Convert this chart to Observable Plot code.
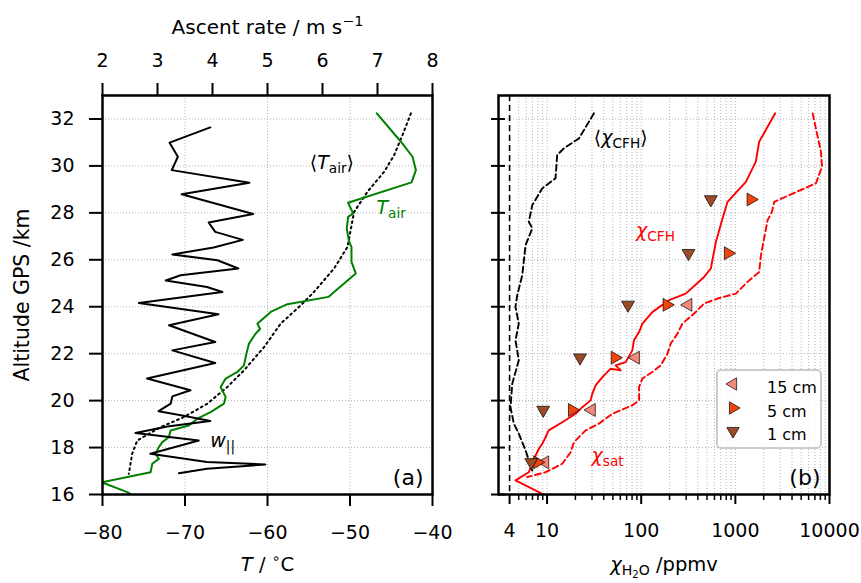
<!DOCTYPE html>
<html>
<head>
<meta charset="utf-8">
<script src="https://cdn.jsdelivr.net/npm/d3@7"></script>
<script src="https://cdn.jsdelivr.net/npm/@observablehq/plot@0.6"></script>
<style>
  body { margin: 0; background: #fff; }
  #fig { position: relative; width: 861px; height: 583px; font-family: "DejaVu Sans", sans-serif; }
  #fig svg { position: absolute; top: 0; }
  .legend { position: absolute; left: 716px; top: 369px; width: 102px; height: 76px;
    border: 2.5px solid #cccccc; border-radius: 5px; background: rgba(255,255,255,0.85);
    font-family: "DejaVu Sans", sans-serif; font-size: 16px; color: #000; }
  .legend .row { position: absolute; left: 0; height: 22px; line-height: 22px; }
  .legend svg { position: absolute; left: 8px; top: 4px; }
  .legend span { position: absolute; left: 49px; white-space: nowrap; }
</style>
</head>
<body>
<div id="fig"></div>
<script>
// ---- axis ticks ----
const altTicks = [16, 18, 20, 22, 24, 26, 28, 30, 32];
const tempTicks = [-80, -70, -60, -50, -40];
const rateTicks = [2, 3, 4, 5, 6, 7, 8];
const chiTicks = [4, 10, 100, 1000, 10000];
const chiMinor = [5, 6, 7, 8, 9, 20, 30, 40, 50, 60, 70, 80, 90,
  200, 300, 400, 500, 600, 700, 800, 900, 2000, 3000, 4000, 5000, 6000, 7000, 8000, 9000];

// ---- balloon ascent rate w|| (m/s) vs altitude (km) ----
const rateAlt = [31.64, 30.99, 30.39, 29.82, 29.28, 28.79, 27.95, 27.59, 27.19, 26.85, 26.52, 26.23, 25.98, 25.63,
  25.34, 25.12, 24.84, 24.63, 24.16, 23.68, 23.21, 22.50, 22.14, 21.60, 20.94, 20.44, 20.18, 19.87, 19.55,
  19.37, 19.13, 18.90, 18.62, 18.30, 18.09, 17.74, 17.38, 17.28, 17.10, 16.91];
const rateVal = [3.96, 3.22, 3.37, 3.26, 4.67, 3.44, 4.74, 3.93, 4.05, 4.55, 4.02, 3.27, 4.09, 4.47,
  3.42, 3.15, 3.90, 4.18, 2.66, 4.11, 3.21, 4.05, 3.27, 4.05, 2.81, 3.60, 3.27, 3.24, 3.02,
  3.45, 3.96, 3.18, 2.60, 3.75, 3.42, 2.87, 3.90, 4.96, 3.90, 3.39];

// ---- air temperature of this flight ----
const tAirAlt = [32.24, 31.03, 30.39, 29.82, 29.30, 28.43, 27.98, 27.83, 27.34, 26.76, 26.55, 25.91, 25.42, 24.63,
  24.42, 24.11, 23.78, 23.28, 23.05, 22.86, 22.43, 22.00, 21.50, 21.22, 20.94, 20.58, 20.15, 19.87, 19.51,
  19.23, 18.94, 18.73, 18.44, 18.23, 18.02, 17.74, 17.52, 17.31, 16.95, 16.52, 16.10, 15.90];
const tAirVal = [-46.75, -43.83, -42.42, -42.01, -42.54, -50.23, -49.62, -50.23, -50.39, -50.11, -49.82, -49.82, -49.30, -51.93,
  -52.61, -57.59, -59.61, -61.23, -60.90, -61.43, -62.24, -62.56, -62.85, -63.65, -65.07, -65.68, -65.07, -65.28, -66.89,
  -68.51, -69.53, -71.75, -71.95, -72.75, -73.17, -73.57, -73.17, -73.97, -74.17, -80.10, -77.00, -76.00];

// ---- mean air temperature profile ----
const tMeanAlt = [32.24, 31.32, 30.46, 29.75, 28.90, 28.04, 26.91, 26.55, 25.63, 24.63, 24.06, 23.28, 22.28,
  21.29, 20.58, 19.87, 19.30, 18.87, 18.30, 17.74, 16.88];
const tMeanVal = [-42.62, -43.63, -44.65, -45.86, -47.88, -49.50, -50.11, -50.30, -51.93, -54.36, -55.97, -58.40, -60.42,
  -62.85, -64.87, -67.29, -70.13, -72.96, -75.79, -76.40, -76.81];

// ---- mean CFH water vapour mixing ratio (ppmv) ----
const cfhMeanAlt = [32.24, 31.17, 30.75, 30.46, 29.47, 29.04, 28.33, 27.62, 27.34, 26.62, 25.34, 24.49, 23.99,
  23.28, 22.57, 21.72, 20.72, 19.72, 19.02, 18.59, 17.88, 17.02];
const cfhMeanVal = [31.5, 21.8, 15.1, 12.8, 12.3, 8.89, 6.97, 6.40, 6.97, 5.91, 5.45, 4.82, 4.62,
  5.01, 4.62, 5.01, 4.27, 4.09, 4.44, 5.01, 5.91, 6.97];

// ---- CFH mixing ratio of this flight ----
const cfhAlt = [32.24, 31.03, 30.18, 29.32, 28.47, 27.76, 26.76, 25.63, 25.27, 24.56, 24.28, 23.78, 23.28, 22.92,
  22.57, 22.14, 21.64, 21.50, 21.29, 21.36, 21.00, 20.65, 20.30, 20.01, 19.72, 19.44, 19.08, 18.73, 18.44,
  18.16, 17.95, 17.66, 17.31, 16.95, 16.60, 16.10, 15.96];
const cfhVal = [2650, 1790, 1650, 1294, 826, 731, 621, 549, 466, 297, 198, 132, 103, 94.9,
  83.8, 80.5, 68.4, 53.5, 60.5, 47.4, 38.7, 32.8, 30.3, 29.0, 23.7, 20.1, 14.5, 10.4, 9.64,
  8.89, 8.19, 7.55, 6.97, 6.40, 4.62, 8.19, 9.4];

// ---- saturation mixing ratio over ice ----
const satAlt = [32.24, 30.60, 29.96, 29.26, 28.47, 28.04, 27.69, 26.20, 25.48, 25.06, 24.56, 24.35, 24.14, 23.71,
  23.28, 22.86, 22.43, 22.00, 21.50, 21.22, 20.94, 20.58, 20.01, 19.80, 19.44, 19.02, 18.73, 18.23, 17.80,
  17.31, 16.95, 16.74];
const satVal = [6620, 8120, 8330, 7180, 2590, 2445, 2200, 1870, 1790, 1348, 1012, 647, 466, 365,
  274, 243, 206, 190, 161, 131, 103, 94.9, 94.9, 80.5, 49.4, 35.6, 25.7, 19.3, 17.8,
  14.5, 9.64, 6.15];

// ---- ice particle sizes sampled at discrete levels ----
const particleSizes = ["15 cm", "5 cm", "1 cm"];
const particleColors = ["#f4897b", "#f2440f", "#9c4a27"];
const particleRotate = [-90, 90, 180];
const levelAlt = [28.57, 26.28, 24.08, 21.83, 19.60, 17.37];
const chi15cm = [null, null, 315, 87.3, 29.7, 9.5];
const chi5cm = [1460, 838, 187, 52.6, 18.5, 7.9];
const chi1cm = [549, 318, 72.4, 22.4, 9.1, 6.8];
const particleChi = [chi15cm, chi5cm, chi1cm];

// ---- helpers ----
const rows = (alts, vals, key) => alts.map((alt, i) => ({alt, [key]: vals[i]}));
const minus = d => (d < 0 ? "\u2212" + Math.abs(d) : String(d));
const gridStyle = {stroke: "#b4b4b4", strokeOpacity: 1, strokeWidth: 1, strokeDasharray: "1,2"};
const font = {fontFamily: "DejaVu Sans, sans-serif", fontSize: "19px", overflow: "visible", background: "none", color: "black"};
const H = 583, MT = 95, MB = 89;

// Turn <i>, <sub>, <sup> markup inside SVG text into styled tspans.
function richText(svg) {
  const ns = "http://www.w3.org/2000/svg";
  svg.querySelectorAll("text").forEach(t => {
    const s = t.textContent;
    if (!s.includes("<")) return;
    const base = parseFloat(getComputedStyle(t).fontSize) || 18;
    t.textContent = "";
    const stack = [];
    let shift = 0;
    for (const part of s.split(/(<\/?(?:i|sub|sup)>)/)) {
      if (!part) continue;
      const m = part.match(/^<(\/?)(i|sub|sup)>$/);
      if (m) { if (m[1]) stack.pop(); else stack.push(m[2]); continue; }
      let size = base, target = 0, italic = false;
      for (const tag of stack) {
        if (tag === "i") italic = true;
        else { target += (tag === "sub" ? 0.22 : -0.4) * size; size *= 0.72; }
      }
      const ts = document.createElementNS(ns, "tspan");
      ts.setAttribute("dy", (target - shift).toFixed(2));
      ts.setAttribute("font-size", size.toFixed(2));
      if (italic) ts.setAttribute("font-style", "italic");
      ts.textContent = part;
      t.appendChild(ts);
      shift = target;
    }
  });
}

const lbl = (x, y, text) => ({x, y, text});

// ---- panel (a): temperature ----
const plotA = Plot.plot({
  width: 470, height: H, marginLeft: 102, marginRight: 38, marginTop: MT, marginBottom: MB,
  x: {domain: [-80, -40]},
  y: {domain: [16, 33]},
  style: font,
  marks: [
    Plot.gridX([-70, -60, -50], gridStyle),
    Plot.gridY(altTicks, gridStyle),
    Plot.line(rows(tMeanAlt, tMeanVal, "T"), {x: "T", y: "alt", stroke: "black", strokeWidth: 2,
      strokeDasharray: "1.8,3.6", clip: true}),
    Plot.line(rows(tAirAlt, tAirVal, "T"), {x: "T", y: "alt", stroke: "green", strokeWidth: 2, clip: true}),
    Plot.text([lbl(-52.2, 30.12, "⟨<i>T</i><sub>air</sub>⟩")], {x: "x", y: "y", text: "text", fontSize: 19, fill: "black"}),
    Plot.text([lbl(-46.8, 28.2, "<i>T</i><sub>air</sub>")], {x: "x", y: "y", text: "text", fontSize: 19, fill: "green", textAnchor: "start"}),
    Plot.axisX(tempTicks, {anchor: "bottom", tickSize: 12, tickPadding: 19, tickFormat: minus, strokeWidth: 2, label: null}),
    Plot.axisY(altTicks, {anchor: "left", tickSize: 13, tickPadding: 15, strokeWidth: 2, label: null}),
    Plot.text(["<i>T</i> / <sup>∘</sup>C"], {text: d => d, frameAnchor: "bottom", dy: 76, fontSize: 19.5}),
    Plot.text(["Altitude GPS /km"], {text: d => d, frameAnchor: "left", textAnchor: "middle", dx: -80, rotate: -90, fontSize: 20.5}),
    Plot.text(["(a)"], {text: d => d, frameAnchor: "bottom-right", dx: -9, dy: -10, fontSize: 22, textAnchor: "end"}),
    Plot.frame({stroke: "black", strokeWidth: 2.5})
  ]
});

// ---- panel (a) overlay: ascent rate on its own top axis ----
const plotA2 = Plot.plot({
  width: 470, height: H, marginLeft: 102, marginRight: 38, marginTop: MT, marginBottom: MB,
  x: {domain: [2, 8]},
  y: {domain: [16, 33], axis: null},
  style: font,
  marks: [
    Plot.line(rows(rateAlt, rateVal, "w"), {x: "w", y: "alt", stroke: "black", strokeWidth: 2, clip: true}),
    Plot.text([lbl(3.96, 18.3, "<i>w</i><sub>||</sub>")], {x: "x", y: "y", text: "text", fontSize: 19, textAnchor: "start"}),
    Plot.axisX(rateTicks, {anchor: "top", tickSize: 13, tickPadding: 16, tickFormat: d => String(d), strokeWidth: 2, label: null}),
    Plot.text(["Ascent rate / m s<sup>−1</sup>"], {text: d => d, frameAnchor: "top", dy: -76, fontSize: 20})
  ]
});

// ---- panel (b): water vapour ----
const dotMarks = particleSizes.map((s, k) => Plot.dot(
  levelAlt.map((alt, i) => ({alt, chi: particleChi[k][i]})).filter(d => d.chi != null),
  {x: "chi", y: "alt", symbol: "triangle", r: 4.8, rotate: particleRotate[k],
   fill: particleColors[k], stroke: "black", strokeWidth: 0.7}
));

const plotB = Plot.plot({
  width: 391, height: H, marginLeft: 28, marginRight: 32, marginTop: MT, marginBottom: MB,
  x: {type: "log", domain: [3.05, 10000]},
  y: {domain: [16, 33]},
  style: font,
  marks: [
    Plot.gridX(chiTicks.concat(chiMinor), gridStyle),
    Plot.gridY(altTicks, gridStyle),
    Plot.ruleX([4], {stroke: "black", strokeWidth: 1.6, strokeDasharray: "6,4"}),
    Plot.line(rows(cfhMeanAlt, cfhMeanVal, "chi"), {x: "chi", y: "alt", stroke: "black", strokeWidth: 1.9,
      strokeDasharray: "6,3.5", clip: true}),
    Plot.line(rows(satAlt, satVal, "chi"), {x: "chi", y: "alt", stroke: "red", strokeWidth: 1.9,
      strokeDasharray: "6,3.5", clip: true}),
    Plot.line(rows(cfhAlt, cfhVal, "chi"), {x: "chi", y: "alt", stroke: "red", strokeWidth: 1.9, clip: true}),
    ...dotMarks,
    Plot.text([lbl(60.6, 31.19, "⟨<i>χ</i><sub>CFH</sub>⟩")], {x: "x", y: "y", text: "text", fontSize: 19, fill: "black"}),
    Plot.text([lbl(142, 27.22, "<i>χ</i><sub>CFH</sub>")], {x: "x", y: "y", text: "text", fontSize: 19, fill: "red"}),
    Plot.text([lbl(44, 17.66, "<i>χ</i><sub>sat</sub>")], {x: "x", y: "y", text: "text", fontSize: 19, fill: "red"}),
    Plot.axisX(chiTicks, {anchor: "bottom", tickSize: 10, fill: "none", strokeWidth: 2, label: null}),
    Plot.axisX(chiMinor, {anchor: "bottom", tickSize: 6, fill: "none", strokeWidth: 1.5, label: null}),
    // every major tick is labelled (the log scale's own formatter would skip "4")
    Plot.text(chiTicks, {x: d => d, text: d => String(d), frameAnchor: "bottom", lineAnchor: "top", dy: 29}),
    Plot.axisY(altTicks, {anchor: "left", tickSize: 7, fill: "none", strokeWidth: 2, label: null}),
    Plot.axisY(altTicks, {anchor: "left", tickSize: -7, fill: "none", strokeWidth: 2, label: null}),
    Plot.text(["<i>χ</i><sub>H<sub>2</sub>O</sub> /ppmv"], {text: d => d, frameAnchor: "bottom", dy: 76, fontSize: 19.5}),
    Plot.text(["(b)"], {text: d => d, frameAnchor: "bottom-right", dx: -9, dy: -10, fontSize: 22, textAnchor: "end"}),
    Plot.frame({stroke: "black", strokeWidth: 2.5})
  ]
});

const fig = document.getElementById("fig");
plotA.style.left = "0px";
plotA2.style.left = "0px";
plotB.style.left = "470px";
fig.append(plotA, plotA2, plotB);
[plotA, plotA2, plotB].forEach(richText);

// ---- legend for particle sizes ----
const legend = document.createElement("div");
legend.className = "legend";
particleSizes.forEach((s, k) => {
  const row = document.createElement("div");
  row.className = "row";
  row.style.top = (6 + k * 23.5) + "px";
  row.style.width = "100px";
  const sw = document.createElementNS("http://www.w3.org/2000/svg", "svg");
  sw.setAttribute("width", 14); sw.setAttribute("height", 14);
  const p = document.createElementNS("http://www.w3.org/2000/svg", "path");
  p.setAttribute("d", d3.symbol(d3.symbolTriangle, Math.PI * 4.6 * 4.6)());
  p.setAttribute("transform", `translate(7,7) rotate(${particleRotate[k]})`);
  p.setAttribute("fill", particleColors[k]);
  p.setAttribute("stroke", "black");
  p.setAttribute("stroke-width", 0.7);
  sw.appendChild(p);
  const span = document.createElement("span");
  span.textContent = s;
  row.append(sw, span);
  legend.appendChild(row);
});
fig.appendChild(legend);
</script>
</body>
</html>
